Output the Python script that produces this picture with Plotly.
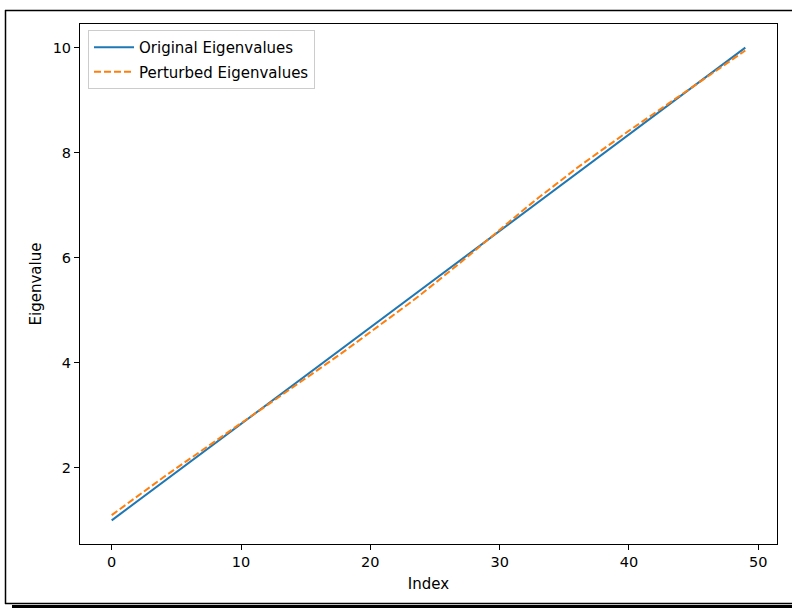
import plotly.graph_objects as go

# Eigenvalue index positions
index = list(range(50))

# Eigenvalues of the unperturbed operator
original = [
    1.000, 1.184, 1.367, 1.551, 1.735, 1.918, 2.102, 2.286, 2.469, 2.653,
    2.837, 3.020, 3.204, 3.388, 3.571, 3.755, 3.939, 4.122, 4.306, 4.490,
    4.673, 4.857, 5.041, 5.224, 5.408, 5.592, 5.776, 5.959, 6.143, 6.327,
    6.510, 6.694, 6.878, 7.061, 7.245, 7.429, 7.612, 7.796, 7.980, 8.163,
    8.347, 8.531, 8.714, 8.898, 9.082, 9.265, 9.449, 9.633, 9.816, 10.000,
]

# Eigenvalues after the perturbation
perturbed = [
    1.100, 1.284, 1.462, 1.641, 1.820, 1.993, 2.167, 2.341, 2.509, 2.683,
    2.852, 3.020, 3.189, 3.358, 3.531, 3.700, 3.874, 4.047, 4.221, 4.400,
    4.578, 4.757, 4.941, 5.129, 5.318, 5.512, 5.711, 5.914, 6.118, 6.327,
    6.535, 6.739, 6.943, 7.141, 7.335, 7.529, 7.712, 7.891, 8.070, 8.243,
    8.417, 8.586, 8.754, 8.923, 9.092, 9.260, 9.429, 9.598, 9.771, 9.945,
]

x_ticks = [0, 10, 20, 30, 40, 50]
y_ticks = [2, 4, 6, 8, 10]

FONT = "DejaVu Sans"
FS = 15
W, H = 792, 608
L, R, T, B = 80, 777, 24, 544   # plot-area edges in pixels

fig = go.Figure()
fig.add_trace(go.Scatter(
    x=index, y=original, mode="lines", name="Original Eigenvalues",
    line=dict(color="#1f77b4", width=2), legendgroup="a",
))
fig.add_trace(go.Scatter(
    x=index, y=perturbed, mode="lines", name="Perturbed Eigenvalues",
    line=dict(color="#ff7f0e", width=2, dash="7px,3px"), legendgroup="b",
))


def px_x(p):
    return (p - L) / (R - L)


def px_y(p):
    return (B - p) / (B - T)


# Outer frame around the whole figure, with a heavier bottom edge
frame = dict(xref="paper", yref="paper", line=dict(color="black", width=1.5))
shapes = [
    dict(type="line", x0=px_x(5.5), x1=px_x(5.5), y0=px_y(10), y1=px_y(604), **frame),
    dict(type="line", x0=px_x(5), x1=px_x(792), y0=px_y(10.5), y1=px_y(10.5), **frame),
    dict(type="line", x0=px_x(5), x1=px_x(792), y0=px_y(603.5), y1=px_y(603.5), **frame),
    dict(type="rect", x0=px_x(12), x1=px_x(792), y0=px_y(605), y1=px_y(608),
         xref="paper", yref="paper", fillcolor="black", line=dict(width=0)),
]

axis_common = dict(
    showline=True, mirror=True, linecolor="black", linewidth=1,
    ticks="outside", ticklen=5, tickwidth=1, tickcolor="black",
    showgrid=False, zeroline=False,
    tickfont=dict(family=FONT, size=14.5, color="black"),
)

fig.update_layout(
    width=W, height=H,
    margin=dict(l=L, r=W - R, t=T, b=H - B, autoexpand=False),
    paper_bgcolor="white", plot_bgcolor="white",
    font=dict(family=FONT, size=FS, color="black"),
    xaxis=dict(range=[-2.45, 51.45], tickvals=x_ticks,
               title=dict(text="Index", font=dict(family=FONT, size=FS), standoff=9),
               **axis_common),
    yaxis=dict(range=[0.55, 10.45], tickvals=y_ticks,
               title=dict(text="Eigenvalue", font=dict(family=FONT, size=FS), standoff=7),
               **axis_common),
    legend=dict(
        x=px_x(88), y=px_y(30), xanchor="left", yanchor="top",
        bgcolor="rgba(255,255,255,0.8)", bordercolor="#cccccc", borderwidth=1,
        font=dict(family=FONT, size=FS, color="black"),
        traceorder="grouped", tracegroupgap=2, itemwidth=40,
    ),
    shapes=shapes,
    showlegend=True,
)

fig.write_html("out.html")
